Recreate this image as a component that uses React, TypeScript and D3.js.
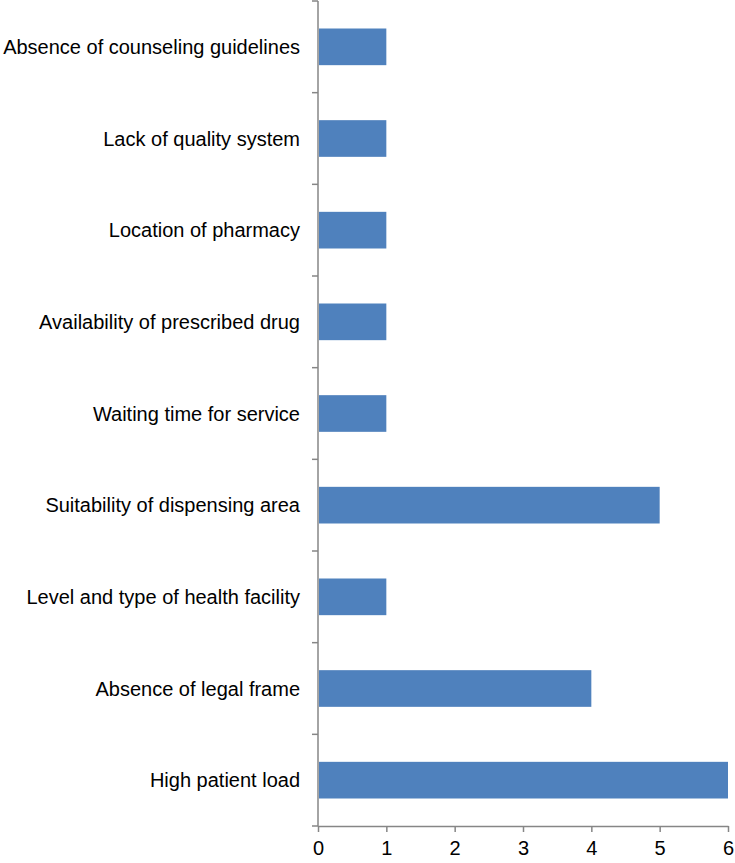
import React, { useEffect, useRef } from 'react';
import * as d3 from 'd3';

const categories = [
  'Absence of counseling guidelines',
  'Lack of quality system',
  'Location of pharmacy',
  'Availability of prescribed drug',
  'Waiting time for service',
  'Suitability of dispensing area',
  'Level and type of health facility',
  'Absence of legal frame',
  'High patient load',
];
const counts = [1, 1, 1, 1, 1, 5, 1, 4, 6];
const xTicks = [0, 1, 2, 3, 4, 5, 6];

const width = 735;
const height = 863;
const margin = { top: 1, right: 7, bottom: 37, left: 318 };

const App = () => {
  const ref = useRef<SVGSVGElement>(null);

  useEffect(() => {
    const svg = d3.select(ref.current);
    svg.selectAll('*').remove();

    const x = d3.scaleLinear().domain([0, 6]).range([margin.left, width - margin.right]);
    const y = d3.scaleBand()
      .domain(categories)
      .range([margin.top, height - margin.bottom])
      .paddingInner(0.6)
      .paddingOuter(0.3);

    const axisColor = '#868686';
    const font = '"Liberation Sans", Arial, sans-serif';

    // bars
    svg.append('g')
      .selectAll('rect')
      .data(categories)
      .join('rect')
      .attr('x', x(0) + 1)
      .attr('y', d => y(d)!)
      .attr('width', (d, i) => x(counts[i]) - x(0) - 1)
      .attr('height', y.bandwidth())
      .attr('fill', '#4f81bd');

    // y axis line + ticks at band edges
    const step = y.step();
    const y0 = margin.top;
    const yg = svg.append('g');
    yg.append('line')
      .attr('x1', x(0)).attr('x2', x(0))
      .attr('y1', y0).attr('y2', height - margin.bottom)
      .attr('stroke', axisColor).attr('stroke-width', 1.5);
    yg.selectAll('line.tick')
      .data(d3.range(categories.length + 1))
      .join('line')
      .attr('class', 'tick')
      .attr('x1', x(0) - 6).attr('x2', x(0))
      .attr('y1', i => y0 + i * step).attr('y2', i => y0 + i * step)
      .attr('stroke', axisColor).attr('stroke-width', 1.5);

    // category labels
    svg.append('g')
      .selectAll('text')
      .data(categories)
      .join('text')
      .attr('x', x(0) - 18)
      .attr('y', d => y(d)! + y.bandwidth() / 2)
      .attr('dy', '0.35em')
      .attr('text-anchor', 'end')
      .style('font-family', font)
      .style('font-size', '20px')
      .attr('fill', '#000')
      .text(d => d);

    // x axis
    const xAxis = d3.axisBottom(x).tickValues(xTicks).tickSize(6).tickSizeOuter(0).tickFormat(d3.format('d'));
    const xg = svg.append('g')
      .attr('transform', `translate(0,${height - margin.bottom})`)
      .call(xAxis);
    xg.select('.domain').attr('stroke', axisColor).attr('stroke-width', 1.5);
    xg.selectAll('.tick line').attr('stroke', axisColor).attr('stroke-width', 1.5);
    xg.selectAll('.tick text')
      .attr('y', 15)
      .attr('fill', '#000')
      .style('font-family', font)
      .style('font-size', '20px');
  }, []);

  return (
    <svg
      ref={ref}
      width={width}
      height={height}
      style={{ position: 'absolute', left: 0, top: 0, background: '#fff' }}
    />
  );
};

export default App;
